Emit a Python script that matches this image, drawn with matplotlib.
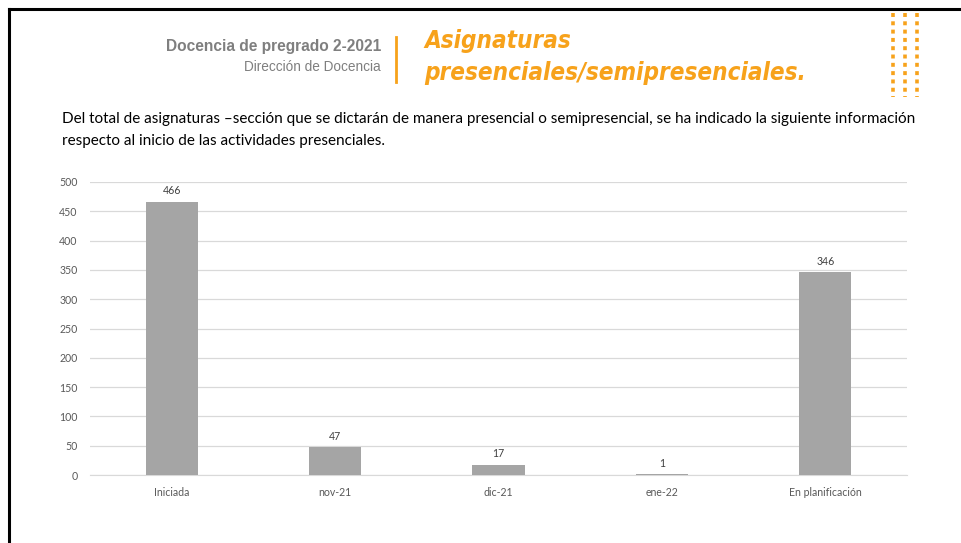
import matplotlib.pyplot as plt
from matplotlib.lines import Line2D

categories = ['Iniciada', 'nov-21', 'dic-21', 'ene-22', 'En planificación']
values = [466, 47, 17, 1, 346]
yticks = [0, 50, 100, 150, 200, 250, 300, 350, 400, 450, 500]

W, H = 961, 543
fig = plt.figure(figsize=(W / 100, H / 100), dpi=100)


def fx(px):
    return px / W


def fy(py):
    return 1 - py / H


# page frame (top and left border)
fig.add_artist(Line2D([fx(9), 1], [fy(9), fy(9)], color='black', lw=2.2))
fig.add_artist(Line2D([fx(9), fx(9)], [fy(9), 0], color='black', lw=2.2))

# orange dotted decoration
for x in [893, 905, 917]:
    fig.add_artist(Line2D([fx(x), fx(x)], [fy(13), fy(97)], color='#F7A21B',
                          lw=2.6, ls=(0, (1.1, 1.2)), solid_capstyle='butt'))

# header
fig.text(fx(381), fy(47), 'Docencia de pregrado 2-2021', ha='right', va='center',
         fontsize=11.2, fontweight='bold', color='#7F7F7F', family='Liberation Sans')
fig.text(fx(381), fy(67), 'Dirección de Docencia', ha='right', va='center',
         fontsize=9.8, color='#7F7F7F', family='Liberation Sans')
fig.add_artist(Line2D([fx(396), fx(396)], [fy(37), fy(82)], color='#F7A21B', lw=2))

title_font = dict(fontsize=17.4, fontweight='bold', style='italic', color='#F7A21B',
                  family='DejaVu Sans', fontstretch='condensed')
fig.text(fx(424), fy(41), 'Asignaturas', ha='left', va='center', **title_font)
fig.text(fx(424), fy(73), 'presenciales/semipresenciales.', ha='left', va='center', **title_font)

# body text
body_font = dict(fontsize=11.0, color='black', family='Lato')
fig.text(fx(62), fy(119), 'Del total de asignaturas \u2013sección que se dictarán de manera presencial '
         'o semipresencial, se ha indicado la siguiente información', ha='left', va='center', **body_font)
fig.text(fx(62), fy(141), 'respecto al inicio de las actividades presenciales.',
         ha='left', va='center', **body_font)

# chart
ax = fig.add_axes([fx(90), fy(475), fx(907) - fx(90), fy(182) - fy(475)])
x = range(len(categories))
bars = ax.bar(x, values, width=0.32, color='#A5A5A5', zorder=3)
ax.set_ylim(0, 500)
ax.set_xlim(-0.5, len(categories) - 0.5)
ax.set_yticks(yticks)
ax.set_xticks(list(x))
ax.set_xticklabels(categories)
ax.grid(axis='y', color='#D9D9D9', lw=0.9, zorder=0)
for s in ['top', 'right', 'left']:
    ax.spines[s].set_visible(False)
ax.spines['bottom'].set_color('#D9D9D9')
ax.tick_params(length=0, labelsize=7.6, colors='#595959')
ax.tick_params(axis='x', pad=8.5)
ax.tick_params(axis='y', pad=9)
for lab in ax.get_xticklabels() + ax.get_yticklabels():
    lab.set_family('Lato')
for b, v in zip(bars, values):
    ax.annotate(str(v), (b.get_x() + b.get_width() / 2, v), xytext=(0, 4),
                textcoords='offset points', ha='center', va='bottom',
                fontsize=7.6, color='#404040', family='Lato')

fig.savefig('out.png', dpi=100)
